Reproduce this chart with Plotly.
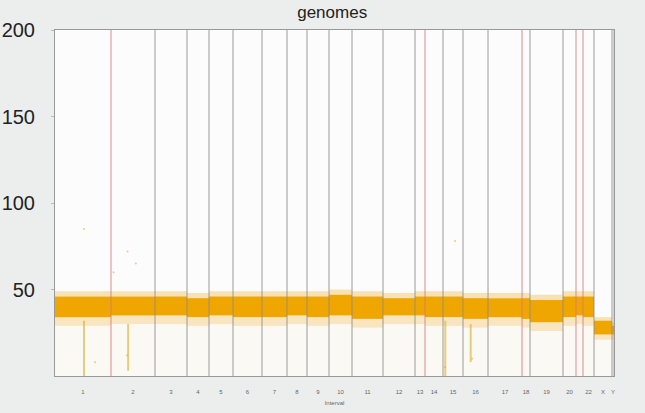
import numpy as np
import plotly.graph_objects as go

# ---- data ----
chromosomes = ["1","2","3","4","5","6","7","8","9","10","11","12","13","14","15",
               "16","17","18","19","20","21","22","X","Y"]
interval_counts = [19600, 15400, 11200, 7700, 8400, 10150, 8750, 7000, 7700, 8050,
                   10850, 11200, 3500, 6300, 7000, 8750, 11900, 2800, 11550, 4550,
                   2450, 3850, 6300, 700]
# dense core of the coverage band per chromosome
core_low  = [34, 35, 35, 34, 35, 34, 34, 35, 34, 35, 33, 35, 35, 34, 34, 33, 34, 33, 31, 34, 35, 34, 24, 24]
core_high = [46, 46, 46, 45, 46, 46, 46, 46, 46, 47, 46, 45, 46, 46, 46, 45, 45, 45, 44, 46, 46, 46, 32, 29]
# sparse fringe around the band
fringe_low  = [29, 30, 30, 29, 30, 29, 29, 30, 29, 30, 28, 30, 30, 29, 29, 28, 29, 28, 26, 29, 30, 29, 21, 21]
fringe_high = [49, 49, 49, 48, 49, 49, 49, 49, 49, 50, 49, 48, 49, 49, 49, 48, 48, 48, 47, 49, 49, 49, 34, 31]
shown_labels = ["1","2","3","4","5","6","7","8","9","10","11","12","13","14","15",
                "16","17","18","19","20","","22","X","Y"]
red_boundaries = ["1", "13", "17", "20", "21", "Y"]
# isolated outlier points (interval index, value)
outlier_x = [10150, 25400, 14000, 25200, 136500, 146000, 20500, 140000, 28300]
outlier_y = [85, 72, 8, 12, 5, 10, 60, 78, 65]
# low streaks (interval index, low value, high value)
streak_x = [10150, 25600, 136600, 145500]
streak_lo = [0, 3, 0, 8]
streak_hi = [32, 30, 32, 30]

ends = np.cumsum(interval_counts)
starts = ends - np.array(interval_counts)
total = int(ends[-1])
centers = (starts + ends) / 2

fig = go.Figure()

def rect(x0, x1, y0, y1, color):
    fig.add_trace(go.Scatter(x=[x0, x1, x1, x0, x0], y=[y0, y0, y1, y1, y0],
                             mode="lines", fill="toself", fillcolor=color,
                             line=dict(width=0), hoverinfo="skip", showlegend=False))

for i in range(len(chromosomes)):
    x0, x1 = starts[i], ends[i]
    rect(x0, x1, 0, fringe_low[i], "rgba(235,175,40,0.04)")
    rect(x0, x1, fringe_low[i], core_low[i], "rgba(240,165,10,0.25)")
    rect(x0, x1, core_high[i], fringe_high[i], "rgba(240,165,10,0.3)")
    rect(x0, x1, core_low[i], core_high[i], "#f0a600")

for sx, lo, hi in zip(streak_x, streak_lo, streak_hi):
    fig.add_trace(go.Scatter(x=[sx, sx], y=[lo, hi], mode="lines",
                             line=dict(color="rgba(210,170,30,0.55)", width=2),
                             hoverinfo="skip", showlegend=False))

fig.add_trace(go.Scatter(x=outlier_x, y=outlier_y, mode="markers",
                         marker=dict(color="rgba(230,170,40,0.6)", size=2),
                         hoverinfo="skip", showlegend=False))

for i, name in enumerate(chromosomes):
    col = "rgba(215,120,120,0.85)" if name in red_boundaries else "rgba(140,140,140,0.85)"
    fig.add_shape(type="line", xref="x", yref="paper", x0=ends[i], x1=ends[i],
                  y0=0, y1=1, line=dict(color=col, width=1))

fig.update_layout(
    width=645, height=413,
    margin=dict(l=55, r=31, t=30, b=37, autoexpand=False),
    paper_bgcolor="#eceeed", plot_bgcolor="#fcfcfc",
    font=dict(family="Liberation Sans, Arial, sans-serif", color="#222"),
    title=dict(text="genomes", x=0.515, xanchor="center", y=0.972, yanchor="middle",
               font=dict(size=17, color="#222")),
    showlegend=False,
)
fig.update_xaxes(range=[0, total], tickmode="array", tickvals=centers, ticktext=shown_labels,
                 tickfont=dict(size=6, color="#666"), ticks="", showgrid=False, zeroline=False,
                 showline=True, linecolor="#999", linewidth=1, mirror=True,
                 ticklabelstandoff=10, automargin=False,
                 title=dict(text="Interval", font=dict(size=6, color="#666"), standoff=6))
fig.update_yaxes(range=[0, 200], tickmode="array", tickvals=[50, 100, 150, 200],
                 tickfont=dict(size=20, color="#222"), ticks="outside", ticklen=3,
                 tickcolor="#bbb", showgrid=False, zeroline=False,
                 showline=True, linecolor="#999", linewidth=1, mirror=True,
                 ticklabelstandoff=12, automargin=False)

fig.write_html("out.html")
